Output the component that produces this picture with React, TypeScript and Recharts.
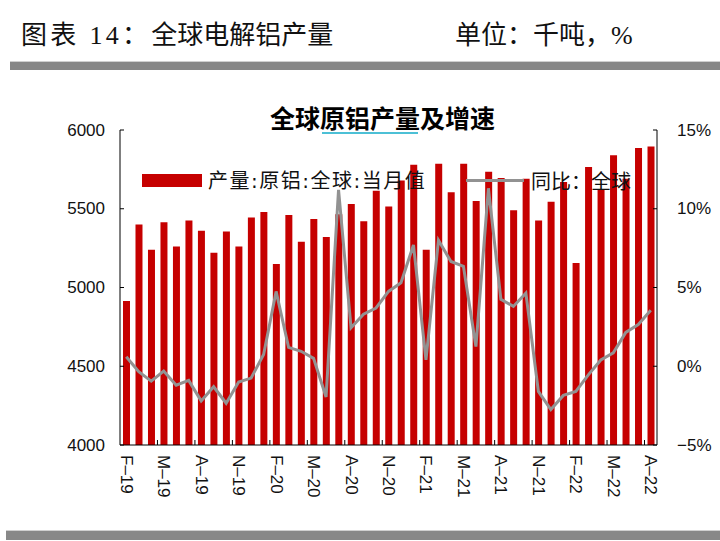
import { Bar, ComposedChart, Line, XAxis, YAxis } from 'recharts';

// Monthly global primary aluminium output (kt) and YoY growth (%)
const months = [
  '2019-02', '2019-03', '2019-04', '2019-05', '2019-06', '2019-07', '2019-08', '2019-09', '2019-10', '2019-11', '2019-12',
  '2020-01', '2020-02', '2020-03', '2020-04', '2020-05', '2020-06', '2020-07', '2020-08', '2020-09', '2020-10', '2020-11', '2020-12',
  '2021-01', '2021-02', '2021-03', '2021-04', '2021-05', '2021-06', '2021-07', '2021-08', '2021-09', '2021-10', '2021-11', '2021-12',
  '2022-01', '2022-02', '2022-03', '2022-04', '2022-05', '2022-06', '2022-07', '2022-08',
];

const output = [
  4915, 5400, 5240, 5415, 5260, 5425, 5360, 5220, 5355, 5260, 5445,
  5480, 5150, 5460, 5290, 5435, 5320, 5465, 5530, 5420, 5615, 5515, 5680,
  5780, 5240, 5785, 5605, 5785, 5550, 5735, 5695, 5490, 5690, 5425, 5545,
  5670, 5155, 5765, 5625, 5840, 5690, 5885, 5895,
];

const yoy = [
  0.6, -0.35, -0.95, -0.3, -1.2, -0.9, -2.2, -1.3, -2.35, -1.0, -0.75,
  0.75, 4.75, 1.2, 0.95, 0.5, -1.95, 11.2, 2.45, 3.3, 3.7, 4.75, 5.3,
  7.7, 0.4, 8.0, 6.65, 6.35, 1.25, 11.3, 4.25, 3.8, 4.65, -1.6, -2.75,
  -1.85, -1.6, -0.55, 0.4, 0.85, 2.15, 2.65, 3.55,
];

// one label every third month
const tickLabels = [
  'F–19', 'M–19', 'A–19', 'N–19', 'F–20', 'M–20', 'A–20', 'N–20',
  'F–21', 'M–21', 'A–21', 'N–21', 'F–22', 'M–22', 'A–22',
];

const leftTicks = [4000, 4500, 5000, 5500, 6000];
const rightTicks = [-5, 0, 5, 10, 15];

const data = months.map((m, i) => ({ month: m, output: output[i], yoy: yoy[i] }));

const W = 720;
const H = 541;
const PLOT_LEFT = 120;
const PLOT_RIGHT = 657;
const PLOT_TOP = 130;
const PLOT_BOTTOM = 445;
const band = (PLOT_RIGHT - PLOT_LEFT) / months.length;

const axisFont = "'Liberation Sans', Arial, sans-serif";
const cjkFont = "'Noto Sans CJK SC', sans-serif";

const LeftTick = ({ x, y, payload }: any) => (
  <g>
    <line x1={x} x2={x + 4} y1={y} y2={y} stroke="#000" />
    <text x={x - 15} y={y} textAnchor="end" dominantBaseline="central" fontFamily={axisFont} fontSize={17} fill="#111">
      {payload.value}
    </text>
  </g>
);

const RightTick = ({ x, y, payload }: any) => (
  <g>
    <line x1={x - 4} x2={x} y1={y} y2={y} stroke="#000" />
    <text x={x + 20} y={y} textAnchor="start" dominantBaseline="central" fontFamily={axisFont} fontSize={17} fill="#111">
      {payload.value < 0 ? `−${Math.abs(payload.value)}%` : `${payload.value}%`}
    </text>
  </g>
);

const MonthTick = ({ x, y, index }: any) => {
  if (index % 3 !== 0) return null;
  const edge = x - band / 2;
  return (
    <g>
      {index > 0 && <line x1={edge} x2={edge} y1={y - 5} y2={y} stroke="#000" />}
      <text
        transform={`translate(${x},${y + 10}) rotate(90)`}
        textAnchor="start"
        dominantBaseline="central"
        fontFamily={axisFont}
        fontSize={17}
        fill="#111"
      >
        {tickLabels[index / 3]}
      </text>
    </g>
  );
};

const headerStyle = {
  position: 'absolute' as const,
  top: 23,
  fontSize: 26,
  lineHeight: 1,
  color: '#111',
  whiteSpace: 'nowrap' as const,
  fontFamily: "'Liberation Serif', 'Noto Sans CJK SC', serif",
};

export default function App() {
  return (
    <div style={{ position: 'fixed', left: 0, top: 0, width: W, height: H, background: '#fff', overflow: 'hidden' }}>
      <div style={{ ...headerStyle, left: 21 }}>
        <span style={{ letterSpacing: 3.3 }}>图表 14：</span>全球电解铝产量
      </div>
      <div style={{ ...headerStyle, left: 455 }}>单位：千吨，%</div>
      <div style={{ position: 'absolute', left: 10, top: 61, width: W - 10, height: 9, background: '#878787', borderTop: '1px solid #d0d0d0', boxSizing: 'border-box' }} />
      <div style={{ position: 'absolute', left: 6, top: 530, width: W - 6, height: 10, background: '#888', borderTop: '1px solid #d0d0d0', boxSizing: 'border-box' }} />

      <ComposedChart
        width={W}
        height={H}
        data={data}
        margin={{ top: PLOT_TOP, right: W - PLOT_RIGHT - 60, bottom: H - PLOT_BOTTOM - 60, left: PLOT_LEFT - 60 }}
        style={{ position: 'absolute', left: 0, top: 0 }}
      >
        <XAxis
          dataKey="month"
          interval={0}
          height={60}
          tickSize={0}
          tickMargin={0}
          tickLine={false}
          axisLine={{ stroke: '#000' }}
          tick={<MonthTick />}
        />
        <YAxis
          yAxisId="left"
          width={60}
          domain={[4000, 6000]}
          ticks={leftTicks}
          tickSize={0}
          tickMargin={0}
          tickLine={false}
          axisLine={{ stroke: '#000' }}
          tick={<LeftTick />}
        />
        <YAxis
          yAxisId="right"
          orientation="right"
          width={60}
          domain={[-5, 15]}
          ticks={rightTicks}
          tickSize={0}
          tickMargin={0}
          tickLine={false}
          axisLine={{ stroke: '#000' }}
          tick={<RightTick />}
        />
        <Bar yAxisId="left" dataKey="output" fill="#c60000" barSize={7} isAnimationActive={false} />
        <Line
          yAxisId="right"
          dataKey="yoy"
          type="linear"
          stroke="#929292"
          strokeWidth={3}
          dot={false}
          isAnimationActive={false}
        />
      </ComposedChart>

      {/* chart title with its underline mark */}
      <div
        style={{
          position: 'absolute', left: 270, top: 105, fontSize: 25, fontWeight: 700, lineHeight: 1, color: '#000',
          fontFamily: cjkFont, whiteSpace: 'nowrap',
        }}
      >
        全球原铝产量及增速
      </div>
      <div style={{ position: 'absolute', left: 322, top: 132, width: 96, height: 2, background: '#4cc0d6' }} />

      {/* legend */}
      <div style={{ position: 'absolute', left: 142, top: 174, width: 60, height: 13, background: '#c60000' }} />
      <div
        style={{
          position: 'absolute', left: 208, top: 171, fontSize: 20, lineHeight: 1, color: '#111', whiteSpace: 'nowrap',
          letterSpacing: 1.5, fontFamily: "'DejaVu Sans', 'Noto Sans CJK SC', sans-serif",
        }}
      >
        产量:原铝:全球:当月值
      </div>
      <div style={{ position: 'absolute', left: 466, top: 179, width: 58, height: 3, background: '#929292' }} />
      <div
        style={{
          position: 'absolute', left: 531, top: 171, fontSize: 20, lineHeight: 1, color: '#111', whiteSpace: 'nowrap',
          fontFamily: cjkFont,
        }}
      >
        同比：全球
      </div>
    </div>
  );
}
